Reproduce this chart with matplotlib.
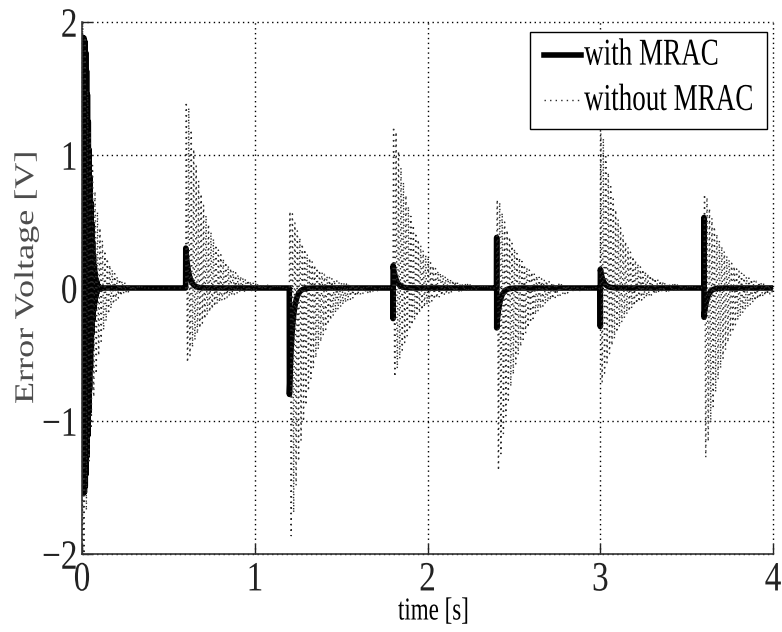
import numpy as np
import matplotlib
matplotlib.use('Agg')
import matplotlib.pyplot as plt
from matplotlib import patheffects
from matplotlib.transforms import Affine2D

plt.rcParams['font.family'] = 'Liberation Serif'

# ---- values ----
# disturbance instants [s]
event_t = [0.0, 0.6, 1.2, 1.8, 2.4, 3.0, 3.6]

# without MRAC: highest / lowest value of the ringing after each event [V]
wo_top = [2.00, 1.40, 0.57, 1.21, 0.66, 1.16, 0.70]
wo_bot = [-2.00, -0.56, -1.86, -0.66, -1.37, -0.70, -1.27]
wo_tau = [0.06, 0.11, 0.11, 0.11, 0.11, 0.11, 0.11]   # decay time [s]
wo_freq = 70.0                                        # ringing [Hz]

# with MRAC: start-up burst, then a short spike at every later event
w_burst = [1.88, -1.54]
w_first = [0.00, 0.00, -0.23, 0.38, -0.29, 0.53]   # first jump at the event
w_peak = [0.30, -0.80, 0.17, -0.30, 0.14, -0.22]   # value it then relaxes from
w_tau = 0.018

xticks = [0, 1, 2, 3, 4]
yticks = [-2, -1, 0, 1, 2]


class Squash(patheffects.AbstractPathEffect):
    # the scanned figure is squeezed sideways, so draw the text narrow
    def __init__(self, sx=1.0, sy=1.0, ha='center', va='base'):
        super().__init__()
        self.sx, self.sy, self.ha, self.va = sx, sy, ha, va

    def draw_path(self, renderer, gc, tpath, affine, rgbFace=None):
        ext = tpath.get_extents()
        x0 = {'left': 0.0, 'center': 0.5 * (ext.x0 + ext.x1), 'right': ext.x1}[self.ha]
        y0 = 0.0 if self.va == 'base' else 0.5 * (ext.y0 + ext.y1)
        sq = Affine2D().translate(-x0, -y0).scale(self.sx, self.sy).translate(x0, y0)
        renderer.draw_path(gc, tpath, sq + affine, rgbFace)


# ---- build the two traces (damped ringing between the read peaks) ----
t = np.linspace(0, 4, 16001)

without = np.zeros_like(t)
for te, top, bot, tau in zip(event_t, wo_top, wo_bot, wo_tau):
    dt = t - te
    on = dt >= 0
    ring = np.sin(2 * np.pi * wo_freq * dt[on])
    amp = np.exp(-np.maximum(dt[on] - 1 / wo_freq, 0) / tau)
    without[on] += np.where(ring > 0, top, -bot) * ring * amp

s = np.sin(2 * np.pi * 200 * t)
env = np.exp(-(np.maximum(t - 0.012, 0) / 0.038) ** 2)
with_mrac = np.where(s > 0, w_burst[0], -w_burst[1]) * s * env
for te, a, b in zip(event_t[1:], w_first, w_peak):
    dt = t - te
    jump = (dt >= 0) & (dt < 0.0005)
    with_mrac[jump] += a if a != 0 else b
    after = dt >= 0.0005
    with_mrac[after] += b * np.exp(-(dt[after] - 0.0005) / w_tau)

# ---- figure ----
fig = plt.figure(figsize=(7.82, 6.32), dpi=100)
ax = fig.add_axes([0.1049, 0.1234, 0.8836, 0.8418])

ax.plot(t, with_mrac, color='black', lw=4, label='with MRAC')
ax.plot(t, without, color='#2a2a2a', lw=1.0, ls=(0, (1, 3)), label='without MRAC')

ax.set_xlim(0, 4)
ax.set_ylim(-2, 2)
ax.set_xticks(xticks)
ax.set_yticks(yticks)
ax.tick_params(direction='in', length=7, width=1, colors='#222222',
               labelsize=30, top=False, right=False)
ax.tick_params(axis='x', pad=5)
ax.tick_params(axis='y', pad=3)
plt.setp(ax.get_xticklabels(), path_effects=[Squash(sx=0.8, ha='center')])
plt.setp(ax.get_yticklabels(), path_effects=[Squash(sx=0.8, ha='right')])

ax.grid(True, color='black', lw=1, ls=(0, (1, 2.5)))
for gl in ax.get_xgridlines() + ax.get_ygridlines():
    gl.set_clip_on(False)

for side in ['top', 'right']:
    ax.spines[side].set_visible(False)
for side in ['left', 'bottom']:
    ax.spines[side].set_color('#333333')
    ax.spines[side].set_linewidth(1.2)

xl = ax.set_xlabel('time [s]', fontsize=23, va='center')
ax.xaxis.set_label_coords(0.509, -0.109)
xl.set_path_effects([Squash(sx=0.72, ha='center')])

yl = ax.set_ylabel('Error Voltage [V]', fontsize=26, color='#4d4d4d',
                   ha='center', va='center')
ax.yaxis.set_label_coords(-0.080, 0.52)
yl.set_path_effects([Squash(sy=0.75, ha='center', va='center')])

leg = ax.legend(loc='upper right', bbox_to_anchor=(0.9913, 0.981),
                borderaxespad=0, fontsize=19.5, fancybox=False,
                edgecolor='black', framealpha=1, handlelength=1.37,
                handletextpad=0.12, borderpad=0.5, labelspacing=0.75)
leg.get_frame().set_linewidth(1.0)
for txt in leg.get_texts():
    txt.set_path_effects([Squash(sy=1.4, ha='left', va='base')])

fig.savefig('out.png', dpi=100)
